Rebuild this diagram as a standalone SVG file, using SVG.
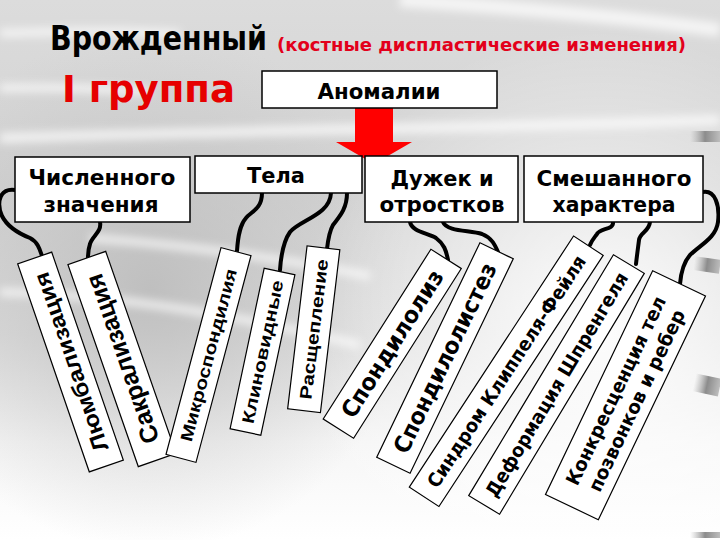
<svg xmlns="http://www.w3.org/2000/svg" width="720" height="540" viewBox="0 0 720 540">
<defs>
<linearGradient id="bg" x1="0" y1="0" x2="0" y2="1">
<stop offset="0" stop-color="#dcdcdc"/>
<stop offset="0.35" stop-color="#d2d2d2"/>
<stop offset="0.62" stop-color="#dedede"/>
<stop offset="0.82" stop-color="#f6f6f6"/>
<stop offset="1" stop-color="#ffffff"/>
</linearGradient>
<radialGradient id="dark" cx="150" cy="290" r="260" gradientUnits="userSpaceOnUse">
<stop offset="0" stop-color="#b8b8b8" stop-opacity="0.8"/>
<stop offset="1" stop-color="#c0c0c0" stop-opacity="0"/>
</radialGradient>
<radialGradient id="light" cx="600" cy="330" r="300" gradientUnits="userSpaceOnUse">
<stop offset="0" stop-color="#ffffff" stop-opacity="0.95"/>
<stop offset="1" stop-color="#ffffff" stop-opacity="0"/>
</radialGradient>
<linearGradient id="bar" x1="0" y1="0" x2="1" y2="0">
<stop offset="0" stop-color="#b0b0b0" stop-opacity="0"/>
<stop offset="0.5" stop-color="#8c8c8c"/>
<stop offset="1" stop-color="#bdbdbd"/>
</linearGradient>
<filter id="blur" x="-20%" y="-50%" width="140%" height="200%"><feGaussianBlur stdDeviation="4"/></filter>
<style>
.box{fill:#fff;stroke:#000;stroke-width:1.5}
.tag{fill:#fff;stroke:#000;stroke-width:1.2}
.bt{font-family:"DejaVu Sans","Noto Sans",sans-serif;font-weight:bold;font-size:22px;fill:#000;text-anchor:middle}
.ta{font-family:"Liberation Sans",Arial,sans-serif;font-weight:bold;fill:#000;text-anchor:middle}
.tb{font-family:"DejaVu Sans","Noto Sans",sans-serif;font-weight:bold;fill:#000;text-anchor:middle}
.con{fill:none;stroke:#000;stroke-width:4;stroke-linecap:round}
.streak{fill:none;stroke:#fff;stroke-opacity:0.7}
.cond{font-family:"DejaVu Sans Condensed","DejaVu Sans",sans-serif;font-weight:bold}
</style>
</defs>
<g id="background">
<rect width="720" height="540" fill="url(#bg)"/>
<rect width="720" height="540" fill="url(#dark)"/>
<rect width="720" height="540" fill="url(#light)"/>
<g filter="url(#blur)">
<path class="streak" stroke-width="8" d="M0,33 C60,32 120,30 180,34"/>
<path class="streak" stroke-width="8" d="M0,88 C50,87 100,88 150,92"/>
<path class="streak" stroke-width="10" d="M0,138 C250,130 500,128 720,120"/>
<path class="streak" stroke-width="8" d="M90,238 C200,246 300,262 370,276"/>
<path class="streak" stroke-width="8" d="M0,292 C120,295 250,318 360,345"/>
<path class="streak" stroke-width="14" d="M400,0 C550,10 650,20 720,30"/>
</g>
<rect x="690" y="131" width="30" height="11" fill="url(#bar)"/>
<rect x="694" y="258" width="26" height="14" fill="url(#bar)" transform="rotate(8 707 265)"/>
<rect x="694" y="376" width="26" height="18" fill="url(#bar)" transform="rotate(12 707 385)"/>
<rect x="690" y="532" width="30" height="6" fill="url(#bar)"/>
</g>
<g id="title">
<text class="cond" x="50" y="50" font-size="33" fill="#000" textLength="217" lengthAdjust="spacingAndGlyphs">Врожденный</text>
<text class="cond" x="277" y="51" font-size="18" fill="#e3001b" textLength="409" lengthAdjust="spacingAndGlyphs">(костные диспластические изменения)</text>
<text class="cond" x="62" y="102" font-size="38" fill="#e60000" textLength="173" lengthAdjust="spacingAndGlyphs">I группа</text>
</g>
<g id="arrow">
<polygon points="355,108 393,108 393,142 412,142 374,164 336,142 355,142" fill="#ff0000"/>
</g>
<g id="anomalii">
<rect class="box" x="262" y="71" width="235" height="37"/>
<text class="cond" x="379" y="99" font-size="22" fill="#000" text-anchor="middle" textLength="123" lengthAdjust="spacingAndGlyphs">Аномалии</text>
</g>
<g id="connectors">
<path class="con" d="M15,190 C0,188 -4,202 2,216 C8,228 20,234 30,238 C38,242 40,250 42,256"/>
<path class="con" d="M100,222 C102,232 92,236 90,244 C88,250 88,254 88,258"/>
<path class="con" d="M262,193 C262,210 250,212 246,218 C240,225 238,235 237,251"/>
<path class="con" d="M331,193 C330,215 300,220 290,232 C283,242 281,255 280,270"/>
<path class="con" d="M347,193 C347,210 338,218 333,225 C329,232 328,240 327,249"/>
<path class="con" d="M410,222 C412,232 428,233 436,238 C444,244 446,250 448,260"/>
<path class="con" d="M443,222 C447,232 470,230 482,234 C492,238 495,245 498,252"/>
<path class="con" d="M613,222 C614,230 600,228 597,234 C594,238 592,240 590,245"/>
<path class="con" d="M650,222 C649,232 640,232 639,240 C638,248 637,255 636,264"/>
<path class="con" d="M703,192 C715,190 720,205 718,222 C716,238 700,245 690,255 C683,263 681,272 680,284"/>
</g>
<g id="chislennogo">
<rect class="box" x="15" y="157" width="175" height="65"/>
<text class="bt" x="102" y="185" textLength="147" lengthAdjust="spacingAndGlyphs">Численного</text>
<text class="bt" x="101" y="212" textLength="115" lengthAdjust="spacingAndGlyphs">значения</text>
</g>
<g id="tela">
<rect class="box" x="195" y="156" width="167" height="37"/>
<text class="bt" x="276" y="183" textLength="58" lengthAdjust="spacingAndGlyphs">Тела</text>
</g>
<g id="duzhek">
<rect class="box" x="365" y="156" width="153" height="66"/>
<text class="bt" x="442" y="186" textLength="103" lengthAdjust="spacingAndGlyphs">Дужек и</text>
<text class="bt" x="442" y="212" textLength="125" lengthAdjust="spacingAndGlyphs">отростков</text>
</g>
<g id="smeshannogo">
<rect class="box" x="524" y="156" width="179" height="66"/>
<text class="bt" x="614" y="186" textLength="155" lengthAdjust="spacingAndGlyphs">Смешанного</text>
<text class="bt" x="614" y="212" textLength="123" lengthAdjust="spacingAndGlyphs">характера</text>
</g>
<g id="lumbalizatsiya" transform="translate(70.5,362) rotate(-109)">
<rect class="tag" x="-110" y="-18" width="220" height="36"/>
<text class="ta" x="0" y="8" font-size="22" textLength="188" lengthAdjust="spacingAndGlyphs">Люмбализация</text>
</g>
<g id="sakralizatsiya" transform="translate(122,359) rotate(-109.2)">
<rect class="tag" x="-107" y="-20" width="214" height="40"/>
<text class="ta" x="0" y="9" font-size="25" textLength="178" lengthAdjust="spacingAndGlyphs">Сакрализация</text>
</g>
<g id="mikrospondiliya" transform="translate(208.5,355) rotate(-75.1)">
<rect class="tag" x="-107" y="-15.5" width="214" height="31"/>
<text class="ta" x="0" y="6" font-size="17" textLength="178" lengthAdjust="spacingAndGlyphs">Микроспондилия</text>
</g>
<g id="klinovidnye" transform="translate(262.5,351.75) rotate(-78)">
<rect class="tag" x="-82" y="-15.7" width="164" height="31.4"/>
<text class="ta" x="0" y="6" font-size="17" textLength="146" lengthAdjust="spacingAndGlyphs">Клиновидные</text>
</g>
<g id="rasshcheplenie" transform="translate(313.75,329.25) rotate(-83.2)">
<rect class="tag" x="-82" y="-16.5" width="164" height="33"/>
<text class="ta" x="0" y="6" font-size="17" textLength="141" lengthAdjust="spacingAndGlyphs">Расщепление</text>
</g>
<g id="spondiloliz" transform="translate(392.25,343.75) rotate(-57.6)">
<rect class="tag" x="-100.5" y="-18" width="201" height="36"/>
<text class="tb" x="0" y="8" font-size="23" textLength="170" lengthAdjust="spacingAndGlyphs">Спондилолиз</text>
</g>
<g id="spondilolistez" transform="translate(445,358) rotate(-64.3)">
<rect class="tag" x="-119" y="-18.5" width="238" height="37"/>
<text class="tb" x="0" y="8" font-size="23" textLength="208" lengthAdjust="spacingAndGlyphs">Спондилолистез</text>
</g>
<g id="klippel" transform="translate(506.25,371.25) rotate(-56.8)">
<rect class="tag" x="-150" y="-17.7" width="300" height="35.4"/>
<text class="tb" x="0" y="7" font-size="19" textLength="273" lengthAdjust="spacingAndGlyphs">Синдром Клиппеля-Фейля</text>
</g>
<g id="sprengel" transform="translate(556.5,384.5) rotate(-59)">
<rect class="tag" x="-140.5" y="-18" width="281" height="36"/>
<text class="tb" x="0" y="7" font-size="19" textLength="258" lengthAdjust="spacingAndGlyphs">Деформация Шпренгеля</text>
</g>
<g id="konkrestsentsiya" transform="translate(625.5,395.25) rotate(-64.4)">
<rect class="tag" x="-124" y="-29.3" width="248" height="58.6"/>
<text class="tb" x="0" y="-4" font-size="19" textLength="207" lengthAdjust="spacingAndGlyphs">Конкресценция тел</text>
<text class="tb" x="0" y="19" font-size="19" textLength="199" lengthAdjust="spacingAndGlyphs">позвонков и ребер</text>
</g>
</svg>
